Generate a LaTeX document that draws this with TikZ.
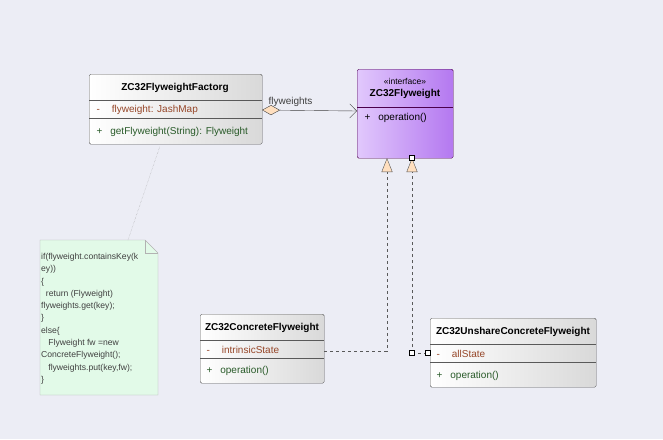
\documentclass[tikz,border=0pt]{standalone}
\usepackage{fontspec}
\setmainfont{Liberation Sans}
\usetikzlibrary{arrows.meta,calc}
\definecolor{bg}{RGB}{236,237,245}
\definecolor{attr}{RGB}{150,70,40}
\definecolor{oper}{RGB}{40,90,40}
\definecolor{notefill}{RGB}{226,250,232}
\definecolor{ileft}{RGB}{225,200,252}
\definecolor{iright}{RGB}{180,120,240}
\begin{document}
\begin{tikzpicture}[x=1pt,y=-1pt,font=\fontsize{10}{12}\selectfont,
  box/.style={draw=gray!70!black,rounded corners=1.5pt,left color=white,right color=gray!30,anchor=north west,inner sep=0pt},
  ibox/.style={draw=violet!60!black,rounded corners=1.5pt,left color=ileft,right color=iright,anchor=north west,inner sep=0pt},
  ttl/.style={font=\fontsize{10}{12}\bfseries},
  real/.style={dashed,draw=gray!70!black,-{Triangle[open,fill=orange!25,length=14pt,width=11pt]}},
  sq/.style={draw=black,fill=white,minimum size=5pt,inner sep=0pt}]
  \fill[bg] (0,0) rectangle (663,439);
  \useasboundingbox (0,0) rectangle (663,439);

  % factory
  \node[box,minimum width=173pt,minimum height=70pt] (fac) at (89,74) {};
  \draw[gray!70!black] (89,100) -- (262,100) (89,118) -- (262,118);
  \node[ttl] at (175,88) {ZC32FlyweightFactorg};
  \node[anchor=west,text=attr] at (93,110) {-\hspace{12pt}flyweight: JashMap};
  \node[anchor=west,text=oper] at (93,132) {+\hspace{8pt}getFlyweight(String): Flyweight};

  % interface
  \node[ibox,minimum width=96pt,minimum height=89pt] (fly) at (357,69) {};
  \draw[violet!60!black] (357,107) -- (453,107);
  \node[font=\fontsize{8.5}{10}\selectfont] at (405,81) {«interface»};
  \node[ttl] at (405,94) {ZC32Flyweight};
  \node[anchor=west] at (361,118) {+\hspace{8pt}operation()};

  % concrete
  \node[box,minimum width=124pt,minimum height=69pt] (con) at (200,314) {};
  \draw[gray!70!black] (200,340) -- (324,340) (200,358) -- (324,358);
  \node[ttl] at (262,328) {ZC32ConcreteFlyweight};
  \node[anchor=west,text=attr] at (203,350) {-\hspace{12pt}intrinsicState};
  \node[anchor=west,text=oper] at (203,371) {+\hspace{8pt}operation()};

  % unshared
  \node[box,minimum width=166pt,minimum height=69pt] (uns) at (430,318) {};
  \draw[gray!70!black] (430,344) -- (596,344) (430,362) -- (596,362);
  \node[ttl] at (513,332) {ZC32UnshareConcreteFlyweight};
  \node[anchor=west,text=attr] at (433,354) {-\hspace{12pt}allState};
  \node[anchor=west,text=oper] at (433,376) {+\hspace{8pt}operation()};

  % note
  \fill[notefill,draw=gray!60] (40,240) -- (145,240) -- (158,253) -- (158,395) -- (40,395) -- cycle;
  \draw[gray!60] (145,240) -- (145,253) -- (158,253);
  \node[anchor=north west,align=left,inner sep=0pt,font=\fontsize{8.6}{12.3}\selectfont,text=black!75] (note) at (41,253)
    {if(flyweight.containsKey(k\\ey))\\\{\\\ \ return (Flyweight)\\flyweights.get(key);\\\}\\else\{\\\ \ \ Flyweight fw =new\\ConcreteFlyweight();\\\ \ \ flyweights.put(key,fw);\\\}};
  \coordinate (nt) at (128,240);
  \coordinate (ft) at (160,146);
  \draw[densely dotted,gray!70] (nt) -- (ft);

  % aggregation
  \coordinate (fa) at (262,110);
  \coordinate (ia) at (357,111);
  \draw[gray!50!black,{Diamond[fill=orange!25,length=18pt,width=10pt]}-{Straight Barb[length=7pt,width=14pt]}] (fa) -- node[above,pos=0.3] {flyweights} (ia);

  % realizations
  \coordinate (c1) at (387,351);
  \coordinate (u1) at (412,353);
  \draw[real] (con.east |- c1) -- (c1) -- (387,158);
  \draw[real] (u1) -- (412,158);
  \draw[dashed,gray!70!black] (u1) -- (428,353);
  \node[sq] at (412,158) {};
  \node[sq] at (u1) {};
  \node[sq] at (428,353) {};
\end{tikzpicture}
\end{document}
